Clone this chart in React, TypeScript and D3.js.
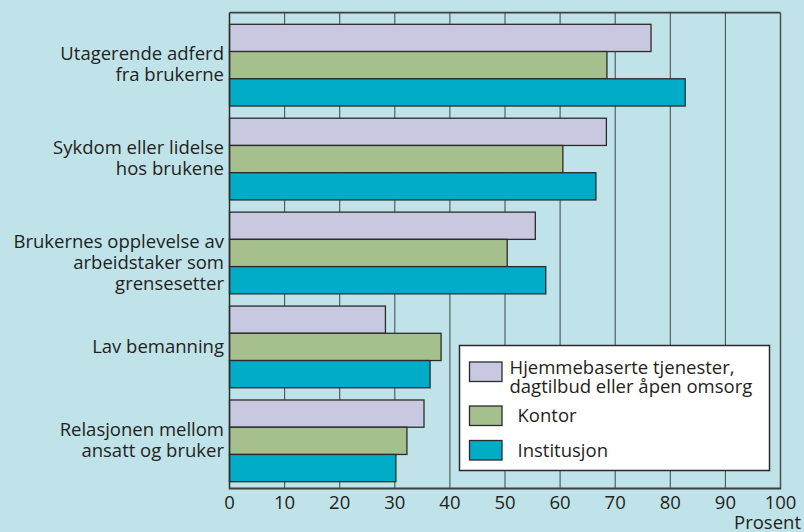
import React from 'react';
import * as d3 from 'd3';

// categories (label lines as printed)
const categories = [
  'Utagerende adferd fra brukerne',
  'Sykdom eller lidelse hos brukene',
  'Brukernes opplevelse av arbeidstaker som grensesetter',
  'Lav bemanning',
  'Relasjonen mellom ansatt og bruker',
];
const categoryLines = [
  ['Utagerende adferd', 'fra brukerne'],
  ['Sykdom eller lidelse', 'hos brukene'],
  ['Brukernes opplevelse av', 'arbeidstaker som', 'grensesetter'],
  ['Lav bemanning'],
  ['Relasjonen mellom', 'ansatt og bruker'],
];

const seriesNames = ['Hjemmebaserte tjenester', 'Kontor', 'Institusjon'];
const legendLines = [
  ['Hjemmebaserte tjenester,', 'dagtilbud eller åpen omsorg'],
  ['Kontor'],
  ['Institusjon'],
];

// percent values per series, same order as categories
const hjemmebaserte = [76.5, 68.4, 55.5, 28.3, 35.3];
const kontor = [68.5, 60.5, 50.4, 38.4, 32.2];
const institusjon = [82.7, 66.5, 57.4, 36.4, 30.2];

const xTicks = [0, 10, 20, 30, 40, 50, 60, 70, 80, 90, 100];

const colors = ['#c8c8e1', '#a5bf8d', '#00acc6'];
const bg = '#bfe3e9';
const font = "'Source Sans Pro', 'Open Sans', sans-serif";
const fs = 18.5;

export default function App() {
  const width = 804;
  const height = 532;
  const plotTop = 12.7;
  const plotBottom = 488.5;

  const x = d3.scaleLinear().domain([0, 100]).range([229.5, 780.5]);
  const y = d3.scaleBand<string>()
    .domain(categories)
    .range([24.3, 481.7])
    .paddingInner(0.13)
    .paddingOuter(0);
  const ySub = d3.scaleBand<string>()
    .domain(seriesNames)
    .range([0, y.bandwidth()])
    .padding(0);

  const series = [hjemmebaserte, kontor, institusjon];

  return (
    <svg width={width} height={height} style={{ position: 'absolute', left: 0, top: 0 }}
      fontFamily={font}>
      <rect x={0} y={0} width={width} height={height} fill={bg} />

      {/* grid */}
      {xTicks.slice(1, -1).map(t => (
        <line key={t} x1={x(t)} x2={x(t)} y1={plotTop} y2={plotBottom}
          stroke="#4a5456" strokeWidth={1.1} />
      ))}

      {/* bars */}
      {categories.map((c, i) => (
        <g key={c} transform={`translate(0,${y(c)})`}>
          {series.map((vals, s) => (
            <rect key={s} x={x(0)} y={ySub(seriesNames[s])}
              width={x(vals[i]) - x(0)} height={ySub.bandwidth()}
              fill={colors[s]} stroke="#2b2b2b" strokeWidth={1.3} />
          ))}
        </g>
      ))}

      {/* frame */}
      <line x1={x(0)} x2={x(100)} y1={plotTop} y2={plotTop} stroke="#3a3f40" strokeWidth={1.8} />
      <line x1={x(100)} x2={x(100)} y1={plotTop} y2={plotBottom} stroke="#4a5052" strokeWidth={1.5} />
      <line x1={x(0)} x2={x(0)} y1={plotTop} y2={plotBottom} stroke="#2b2b2b" strokeWidth={1.5} />
      <line x1={x(0) - 0.7} x2={x(100) + 0.7} y1={plotBottom} y2={plotBottom} stroke="#3a3f40" strokeWidth={2} />

      {/* category labels */}
      {categories.map((c, i) => {
        const center = (y(c) as number) + y.bandwidth() / 2;
        const lines = categoryLines[i];
        const first = lines.length === 1 ? center + 6 : center - 5;
        return (
          <text key={c} x={224} y={first} textAnchor="end" fontSize={fs} fill="#231f20">
            {lines.map((l, k) => (
              <tspan key={k} x={224} y={first + k * 21}>{l}</tspan>
            ))}
          </text>
        );
      })}

      {/* x axis labels */}
      {xTicks.map(t => (
        <text key={t} x={x(t)} y={509} textAnchor="middle" fontSize={fs} fill="#231f20">{t}</text>
      ))}
      <text x={801} y={528.5} textAnchor="end" fontSize={fs} fill="#231f20">Prosent</text>

      {/* legend */}
      <g>
        <rect x={459.5} y={345.5} width={310} height={125} fill="#ffffff" stroke="#2b2b2b" strokeWidth={1.5} />
        {seriesNames.map((n, s) => {
          const sy = [362, 406, 440.5][s];
          const tx = s === 0 ? 509.5 : 517.5;
          const ty = [374.3, 422, 457][s];
          return (
            <g key={n}>
              <rect x={469.5} y={sy} width={32.5} height={19.5} fill={colors[s]} stroke="#2b2b2b" strokeWidth={1.3} />
              <text x={tx} y={ty} fontSize={fs} fill="#231f20">
                {legendLines[s].map((l, k) => (
                  <tspan key={k} x={tx} y={ty + k * 18.4}>{l}</tspan>
                ))}
              </text>
            </g>
          );
        })}
      </g>
    </svg>
  );
}
